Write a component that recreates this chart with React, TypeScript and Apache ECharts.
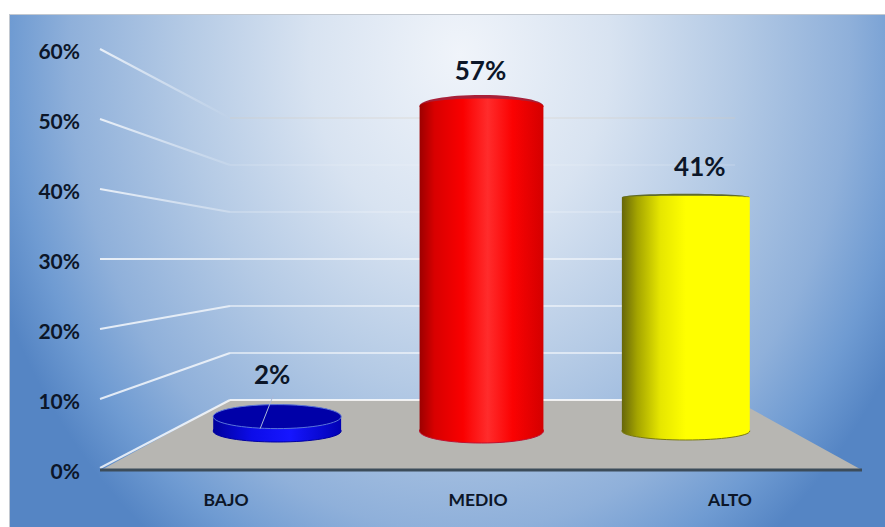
import React, { useEffect, useRef } from "react";
import * as echarts from "echarts";

const categories = ["BAJO", "MEDIO", "ALTO"];
const percentages = [2, 57, 41];
const wallTicks = [0, 10, 20, 30, 40, 50, 60];

const WIDTH = 885;
const HEIGHT = 527;
const FONT = "Lato, Carlito, sans-serif";
const INK = "#0c1628";

// Opacity each wall line keeps where it meets the back wall, in tick order.
const wallFade = [0.8, 0.75, 0.7, 0.62, 0.28, 0.12, 0];
// Opacity of the back-wall line itself, in tick order.
const backLineAlpha = [0.8, 0.55, 0.5, 0.5, 0.2, 0.12, 0.5];

// Look of each cylinder, in category order.
const cylinderLooks = [
  {
    body: [[0, "#00009c"], [0.3, "#0c0ce8"], [0.6, "#1616ff"], [1, "#0000b4"]],
    face: "#0000a8", faceStroke: "#5a74d8", faceRy: 12, coverRy: 0, faceOnTop: true, faceLift: 3,
    baseRy: 11, baseStroke: "#0000a0", labelDx: -5, labelDy: -46, leader: true, widthRatio: 0.313,
  },
  {
    body: [[0, "#9c0000"], [0.12, "#d80000"], [0.35, "#fa0000"], [0.55, "#ff2c2c"], [0.75, "#fb0202"], [1, "#d40000"]],
    face: "#a82038", faceStroke: "none", faceRy: 11, coverRy: 7.5, faceOnTop: false, faceLift: 0,
    baseRy: 12, baseStroke: "#c01030", labelDx: -1, labelDy: -36, leader: false, widthRatio: 0.303,
  },
  {
    body: [[0, "#66660a"], [0.12, "#a4a400"], [0.3, "#e6e600"], [0.5, "#ffff00"], [1, "#ffff00"]],
    face: "#5f6a2a", faceStroke: "none", faceRy: 3.5, coverRy: 1.5, faceOnTop: false, faceLift: 0,
    baseRy: 9, baseStroke: "#7a7a10", labelDx: 14, labelDy: -31, leader: false, widthRatio: 0.313,
  },
];

export default function App() {
  const ref = useRef<HTMLDivElement>(null);

  useEffect(() => {
    if (!ref.current) return;
    const chart = echarts.init(ref.current, undefined, { renderer: "svg" });

    // Side walls and floor join the front scale to the back-wall scale.
    const renderWall = (params: any, api: any) => {
      const value = api.value(0);
      const tickIndex = params.dataIndex;
      const backLeft = api.coord([0, value]);
      const backRight = api.coord([1, value]);
      const frontY = chart.convertToPixel({ yAxisIndex: 0 }, value) as number;
      const frontLeft = 100;
      const frontRight = 862;
      const startY = frontY - (value === 0 ? 2 : 1);
      const children: any[] = [];
      if (value === 0) {
        children.push({
          type: "polygon",
          shape: {
            points: [
              [frontLeft + 3, frontY - 1],
              backLeft,
              backRight,
              [frontRight - 2, frontY - 1],
            ],
          },
          style: { fill: "#b7b6b2" },
        });
      }
      children.push({
        type: "line",
        shape: { x1: frontLeft, y1: startY, x2: backLeft[0], y2: backLeft[1] },
        style: {
          stroke: new echarts.graphic.LinearGradient(
            frontLeft, 0, backLeft[0], 0,
            [
              { offset: 0, color: "rgba(255,255,255,0.8)" },
              { offset: 1, color: `rgba(255,255,255,${wallFade[tickIndex]})` },
            ],
            true,
          ),
          lineWidth: 2,
        },
      });
      children.push({
        type: "line",
        shape: { x1: backLeft[0], y1: backLeft[1], x2: backRight[0], y2: backRight[1] },
        style: {
          stroke:
            value === 60
              ? `rgba(214,204,194,${backLineAlpha[tickIndex]})`
              : `rgba(255,255,255,${backLineAlpha[tickIndex]})`,
          lineWidth: value === 60 ? 1 : 2,
        },
      });
      if (value === 0) {
        children.push({
          type: "line",
          shape: { x1: frontLeft, y1: frontY, x2: frontRight, y2: frontY },
          style: { stroke: "#3c4c5a", lineWidth: 3 },
        });
      }
      return { type: "group", children };
    };

    const renderCylinder = (params: any, api: any) => {
      const index = api.value(0);
      const value = api.value(1);
      const look = cylinderLooks[index];
      const [x, valueTop] = api.coord([index, value]);
      const top = valueTop - look.faceLift;
      const base = api.coord([index, 0])[1];
      const rx = (api.size([1, 0])[0] * look.widthRatio);
      const gradient = new echarts.graphic.LinearGradient(
        0, 0, 1, 0,
        look.body.map(([offset, color]) => ({ offset: offset as number, color: color as string })),
      );
      const face = {
        type: "ellipse",
        shape: { cx: x, cy: top, rx, ry: look.faceRy },
        style: { fill: look.face, stroke: look.faceStroke, lineWidth: 1 },
      };
      const body = [
        {
          type: "ellipse",
          shape: { cx: x, cy: base, rx, ry: look.baseRy },
          style: { fill: gradient, stroke: look.baseStroke, lineWidth: 1 },
        },
        {
          type: "rect",
          shape: { x: x - rx, y: top, width: rx * 2, height: base - top },
          style: { fill: gradient },
        },
      ];
      const children: any[] = look.faceOnTop ? [...body, face] : [face, ...body];
      if (look.coverRy > 0) {
        children.push({
          type: "ellipse",
          shape: { cx: x, cy: top, rx, ry: look.coverRy },
          style: { fill: gradient },
        });
      }
      if (look.leader) {
        children.push({
          type: "line",
          shape: { x1: x - 4, y1: valueTop - 24, x2: x - 17, y2: valueTop + 9 },
          style: { stroke: "#a9b8d8", lineWidth: 1 },
        });
      }
      children.push({
        type: "text",
        style: {
          text: `${value}%`,
          x: x + look.labelDx,
          y: valueTop + look.labelDy,
          textAlign: "center",
          textVerticalAlign: "middle",
          font: `bold 26px ${FONT}`,
          fill: INK,
        },
      });
      return { type: "group", children };
    };

    chart.setOption({
      animation: false,
      backgroundColor: "transparent",
      grid: [
        { left: 100, top: 50, width: 756, height: 420 }, // front plane
        { left: 175, top: 89, width: 613, height: 342 }, // plane through the cylinders
        { left: 230, top: 118, width: 505, height: 282 }, // back wall
      ],
      xAxis: [
        {
          gridIndex: 0,
          type: "category",
          data: categories,
          axisLine: { show: false },
          axisTick: { show: false },
          axisLabel: { margin: 20, fontFamily: FONT, fontWeight: "bold", fontSize: 17.5, color: INK },
        },
        { gridIndex: 1, type: "category", data: categories, show: false },
        { gridIndex: 2, type: "value", min: 0, max: 1, show: false },
      ],
      yAxis: [
        {
          gridIndex: 0,
          type: "value",
          min: 0,
          max: 60,
          interval: 10,
          splitLine: { show: false },
          axisLine: { show: false },
          axisTick: { show: false },
          axisLabel: {
            margin: 20,
            formatter: "{value}%",
            fontFamily: FONT,
            fontWeight: "bold",
            fontSize: 21,
            color: INK,
          },
        },
        { gridIndex: 1, type: "value", min: 0, max: 60, show: false },
        { gridIndex: 2, type: "value", min: 0, max: 60, show: false },
      ],
      series: [
        {
          type: "custom",
          name: "walls",
          xAxisIndex: 2,
          yAxisIndex: 2,
          z: 1,
          silent: true,
          clip: false,
          data: wallTicks.map((tick) => [tick]),
          encode: { y: 0 },
          renderItem: renderWall,
        },
        {
          type: "custom",
          name: "porcentaje",
          xAxisIndex: 1,
          yAxisIndex: 1,
          z: 3,
          silent: true,
          clip: false,
          data: percentages.map((value, index) => [index, value]),
          encode: { x: 0, y: 1 },
          renderItem: renderCylinder,
        },
      ],
    });

    return () => chart.dispose();
  }, []);

  return (
    <div style={{ position: "absolute", left: 0, top: 0, width: WIDTH, height: HEIGHT, background: "#fff", overflow: "hidden" }}>
      <div
        style={{
          position: "absolute",
          left: 9,
          top: 14,
          right: 0,
          bottom: 0,
          boxSizing: "border-box",
          borderTop: "1px solid #c2c8d0",
          borderLeft: "1px solid #c2c8d0",
          background:
            "radial-gradient(ellipse 500px 610px at 450px 40px, #f0f4fa 0%, #d8e3f1 30%, #b4cae5 55%, #8fb0da 78%, #6f9bd2 90%, #5585c4 100%)",
        }}
      />
      <div ref={ref} style={{ position: "absolute", left: 0, top: 0, width: WIDTH, height: HEIGHT }} />
    </div>
  );
}
